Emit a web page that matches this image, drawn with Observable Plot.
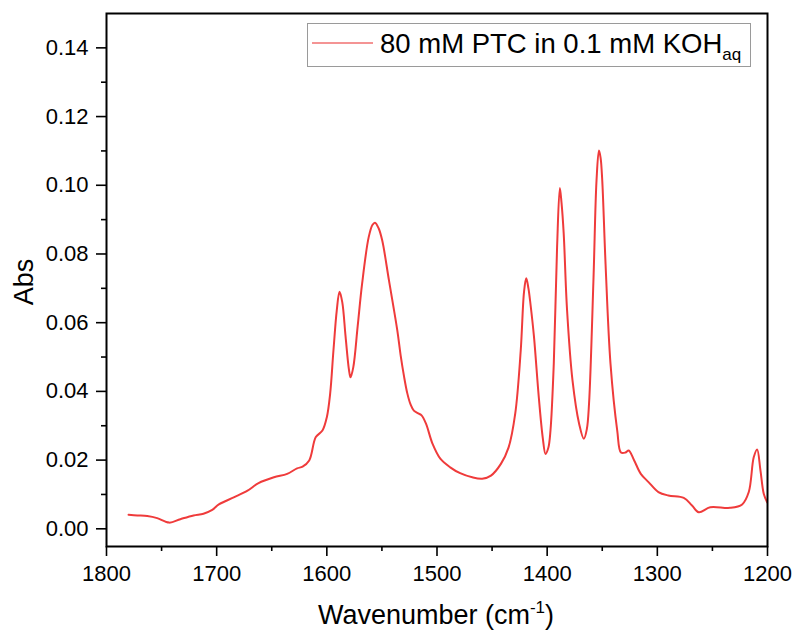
<!DOCTYPE html>
<html>
<head>
<meta charset="utf-8">
<script src="https://cdn.jsdelivr.net/npm/d3@7"></script>
<script src="https://cdn.jsdelivr.net/npm/@observablehq/plot@0.6"></script>
<style>
  html, body { margin: 0; padding: 0; background: white; }
  #chart { width: 795px; height: 633px; }
</style>
</head>
<body>
<div id="chart"></div>
<script>
const wavenumber = [1780,1772,1763,1754,1743,1733,1721,1712,1704,1698,1684,1672,1662,1648,1636,1627,1622,1616,1610,1604,1600,1597,1594,1591,1588.5,1586,1583,1580,1578.5,1576,1572,1568,1562,1558.5,1556.3,1553,1549.7,1543.6,1536,1533,1530,1527,1524,1521,1517,1514,1510,1504,1497,1488,1479,1468,1459,1451,1442,1435,1429,1424,1421,1419,1417,1415,1412,1407.6,1404,1401.5,1399,1397,1394,1391,1388.5,1387,1385,1382,1377,1371,1366.7,1364,1362,1358,1355.2,1353,1351.5,1350,1347,1342.5,1336.4,1333,1329,1326,1321,1315,1308,1299,1290,1276,1268.5,1262.4,1252,1234,1223,1217,1212.5,1209.4,1206.4,1203.4,1200.3];
const absorbance = [0.0041,0.0039,0.0037,0.0031,0.0018,0.0028,0.0039,0.0044,0.0055,0.0071,0.0092,0.0111,0.0133,0.0150,0.0160,0.0176,0.0181,0.0199,0.0267,0.0286,0.0325,0.0393,0.0519,0.0635,0.0690,0.0660,0.0560,0.0465,0.0441,0.0470,0.0590,0.0713,0.0849,0.0885,0.0891,0.0875,0.0839,0.0723,0.0577,0.0505,0.0445,0.0395,0.0362,0.0344,0.0336,0.0330,0.0306,0.0247,0.0204,0.0179,0.0162,0.0150,0.0146,0.0155,0.0189,0.0237,0.0335,0.0519,0.0690,0.0729,0.0700,0.0650,0.0560,0.0383,0.0265,0.0218,0.0235,0.0286,0.0480,0.0820,0.0992,0.0950,0.0860,0.0640,0.0432,0.0306,0.0262,0.0290,0.0364,0.0723,0.1014,0.1101,0.1080,0.1014,0.0771,0.0480,0.0286,0.0222,0.0222,0.0228,0.0199,0.0160,0.0136,0.0107,0.0097,0.0090,0.0068,0.0048,0.0063,0.0061,0.0071,0.0107,0.0208,0.0231,0.0170,0.0102,0.0077];

const xMajorTicks = [1800,1700,1600,1500,1400,1300,1200];
const xMinorTicks = [1750,1650,1550,1450,1350,1250];
const yMajorTicks = [0,0.02,0.04,0.06,0.08,0.10,0.12,0.14];
const yMinorTicks = [0.01,0.03,0.05,0.07,0.09,0.11,0.13];
const seriesName = "80 mM PTC in 0.1 mM KOH";
const seriesSub = "aq";
const xTitle = "Wavenumber (cm";
const xTitleSup = "-1";
const yTitle = "Abs";

const data = wavenumber.map((w, i) => ({w, a: absorbance[i]}));
const lineColor = "#ef3b3b";

const chart = Plot.plot({
  width: 795,
  height: 633,
  marginLeft: 106,
  marginRight: 28,
  marginTop: 13,
  marginBottom: 87,
  x: {domain: [1800, 1200]},
  y: {domain: [-0.00515, 0.15]},
  style: {fontFamily: "'Liberation Sans', Arial, sans-serif", fontSize: "22px", color: "black", background: "white"},
  marks: [
    Plot.axisX(xMajorTicks, {tickSize: 10, tickPadding: 9, tickFormat: d => String(d), strokeWidth: 1.6, label: null, fontSize: 22}),
    Plot.axisX(xMinorTicks, {tickSize: 5, tickFormat: () => "", strokeWidth: 1.6, label: null}),
    Plot.axisY(yMajorTicks, {tickSize: 10, tickPadding: 8, tickFormat: d3.format(".2f"), strokeWidth: 1.6, label: null, fontSize: 22}),
    Plot.axisY(yMinorTicks, {tickSize: 5, tickFormat: () => "", strokeWidth: 1.6, label: null}),
    Plot.line(data, {x: "w", y: "a", stroke: lineColor, strokeWidth: 2, curve: "catmull-rom", clip: true}),
    Plot.frame({stroke: "black", strokeWidth: 2})
  ]
});

document.getElementById("chart").appendChild(chart);

const svg = d3.select(chart);
const ff = "'Liberation Sans', Arial, sans-serif";

// Y axis title
svg.append("text")
  .attr("transform", "translate(24,282) rotate(-90)")
  .attr("text-anchor", "middle")
  .attr("dominant-baseline", "central")
  .attr("font-family", ff)
  .attr("font-size", 27)
  .attr("fill", "black")
  .text(yTitle);

// X axis title
const xt = svg.append("text")
  .attr("x", 436)
  .attr("y", 624)
  .attr("text-anchor", "middle")
  .attr("font-family", ff)
  .attr("font-size", 27)
  .attr("fill", "black");
xt.append("tspan").text(xTitle);
xt.append("tspan").attr("font-size", 17).attr("dy", -11).text(xTitleSup);
xt.append("tspan").attr("dy", 11).text(")");

// Legend
const lg = svg.append("g");
lg.append("rect")
  .attr("x", 307.5).attr("y", 23.5).attr("width", 443).attr("height", 43)
  .attr("fill", "white").attr("stroke", "#9a9a9a").attr("stroke-width", 1);
lg.append("line")
  .attr("x1", 312).attr("x2", 373).attr("y1", 43).attr("y2", 43)
  .attr("stroke", "#f07070").attr("stroke-width", 1.3);
const lt = lg.append("text")
  .attr("x", 380).attr("y", 52.5)
  .attr("text-anchor", "start")
  .attr("font-family", ff).attr("font-size", 27.5).attr("fill", "black");
lt.append("tspan").text(seriesName);
lt.append("tspan").attr("font-size", 17).attr("dy", 7).text(seriesSub);
</script>
</body>
</html>
